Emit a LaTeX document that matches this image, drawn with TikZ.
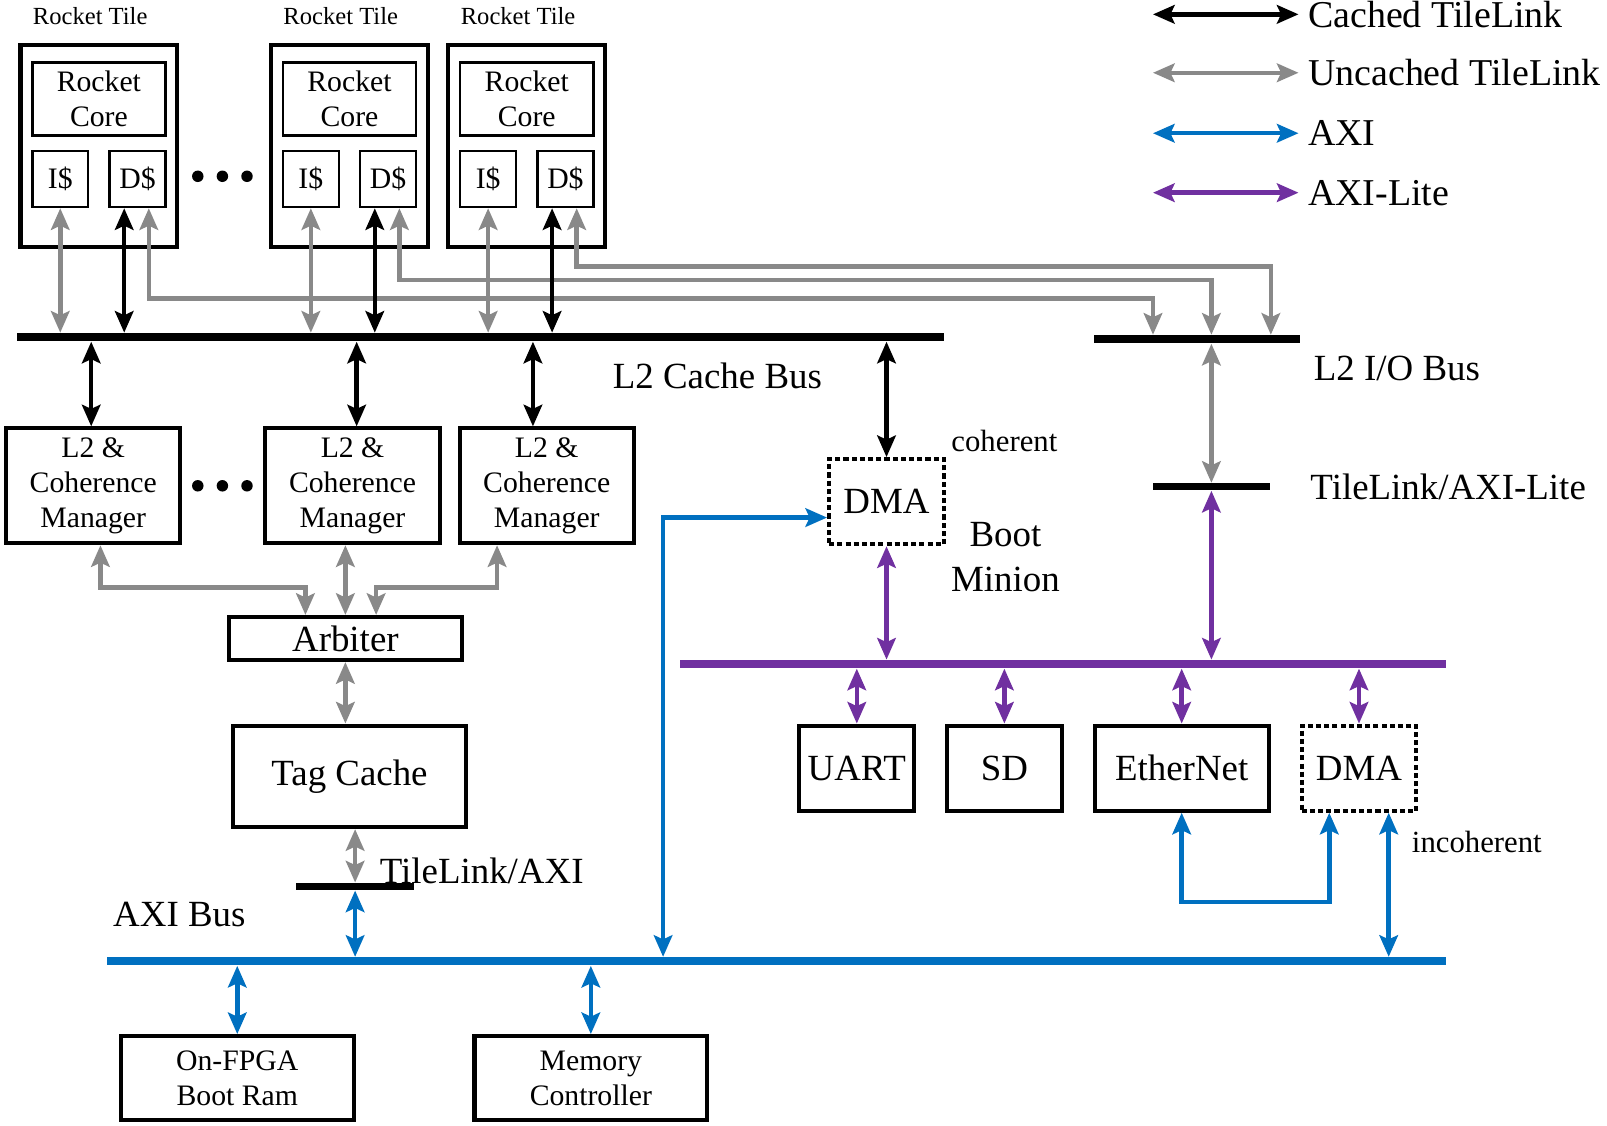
\documentclass[tikz,border=0pt]{standalone}
\usepackage{fontspec}
\setmainfont{Liberation Serif}
\usetikzlibrary{positioning,arrows.meta}
\definecolor{tlgray}{RGB}{137,137,137}
\definecolor{axiblue}{RGB}{0,112,192}
\definecolor{axipurple}{RGB}{112,48,160}

\begin{document}
\begin{tikzpicture}[x=0.5pt, y=-0.5pt,
    >={Stealth[length=10.5pt, width=9pt, inset=2pt]},
    cached/.style={<->, draw=black, line width=2.2pt},
    uncached/.style={<->, draw=tlgray, line width=2.2pt},
    axi/.style={<->, draw=axiblue, line width=2.2pt},
    axilite/.style={<->, draw=axipurple, line width=2.2pt},
    tilebox/.style={draw, line width=2pt, minimum width=76.5pt, minimum height=98.5pt, inner sep=0pt},
    corebox/.style={draw, line width=1.2pt, minimum width=65pt, minimum height=35.5pt, inner sep=0pt, align=center, font=\fontsize{14.5pt}{17pt}\selectfont},
    cachebox/.style={corebox, minimum width=27.3pt, minimum height=27.3pt},
    block/.style={draw, line width=2pt, inner sep=0pt, align=center},
    mgrbox/.style={block, minimum width=85pt, minimum height=56pt, font=\fontsize{14.5pt}{17pt}\selectfont},
    membox/.style={block, minimum width=113.5pt, minimum height=41pt, font=\fontsize{14.5pt}{17pt}\selectfont},
    periph/.style={block, minimum width=56pt, minimum height=41.5pt, font=\fontsize{18pt}{21pt}\selectfont},
    dmabox/.style={periph, dash pattern=on 2.5pt off 1.5pt},
    busbar/.style={inner sep=0pt, minimum height=4pt},
    bustext/.style={inner sep=0pt, align=center, font=\fontsize{18pt}{22pt}\selectfont},
    legtext/.style={inner sep=0pt, font=\fontsize{18.5pt}{22pt}\selectfont},
    smalltext/.style={inner sep=0pt, font=\fontsize{15pt}{17pt}\selectfont},
    tiletext/.style={inner sep=0pt, font=\fontsize{12pt}{14pt}\selectfont}
    ]
        \useasboundingbox (0,0) rectangle (1568,1097.7);

        %Buses
        \node[busbar, fill=black, minimum width=452pt] (cbus) at (469,329) {};
        \node[busbar, fill=black, minimum width=100.5pt] (iobus) at (1167.5,331) {};
        \node[busbar, fill=black, minimum width=57pt, minimum height=3.5pt] (tlbar) at (1182,475) {};
        \node[busbar, fill=axipurple, minimum width=374pt] (pbus) at (1037,648) {};
        \node[busbar, fill=black, minimum width=57.5pt, minimum height=3.5pt] (axibar) at (346.5,865) {};
        \node[busbar, fill=axiblue, minimum width=653.5pt] (axibus) at (757.5,938) {};

        %Rocket tiles
        \foreach \i/\x in {1/96.5, 2/341, 3/514} {
            \node[tilebox] (T\i) at (\x,142.5) {};
            \node[tiletext] at ([xshift=-4.25pt, yshift=13pt]T\i.north) {Rocket Tile};
            \node[corebox] (C\i) at (\x,96.5) {Rocket\\Core};
            \node[cachebox, anchor=north west] (I\i) at ([yshift=-6.5pt]C\i.south west) {I\$};
            \node[cachebox, anchor=north east] (D\i) at ([yshift=-6.5pt]C\i.south east) {D\$};
        }
        \foreach \y in {172, 474}
            \foreach \x in {193, 217, 241}
                \fill (\x,\y) circle (2.8pt);

        %L2 managers and memory side
        \node[mgrbox] (M1) at (91,474) {L2 \&\\Coherence\\Manager};
        \node[mgrbox] (M2) at (344,474) {L2 \&\\Coherence\\Manager};
        \node[mgrbox] (M3) at (533.5,474) {L2 \&\\Coherence\\Manager};
        \node[block, minimum width=114pt, minimum height=21pt, font=\fontsize{18pt}{21pt}\selectfont]
            (arb) at (337,623) {Arbiter};
        \node[block, minimum width=114pt, minimum height=49.5pt, font=\fontsize{18pt}{21pt}\selectfont]
            (tag) at (341,757.5) {Tag Cache};
        \node[membox] (bram) at (231.5,1052) {On-FPGA\\Boot Ram};
        \node[membox] (memc) at (576.5,1052) {Memory\\Controller};

        %Boot minion and peripherals
        \node[dmabox] (dma1) at (865,489.5) {DMA};
        \node[periph] (uart) at (836,749.5) {UART};
        \node[periph, right=14pt of uart] (sd) {SD};
        \node[periph, right=14pt of sd, minimum width=85pt] (eth) {EtherNet};
        \node[dmabox, right=14pt of eth] (dma2) {DMA};

        %Texts
        \node[bustext] at (700,367) {L2 Cache Bus};
        \node[bustext] at (1363,360) {L2 I/O Bus};
        \node[bustext] at (1413,475) {TileLink/AXI-Lite};
        \node[bustext] at (470,850) {TileLink/AXI};
        \node[bustext] at (175,892) {AXI Bus};
        \node[bustext] at (981,544) {Boot\\Minion};
        \node[smalltext] at (980,430) {coherent};
        \node[smalltext] at (1441,822) {incoherent};

        %Legend
        \foreach \y/\s/\t in {14/cached/Cached TileLink, 71/uncached/Uncached TileLink,
                              130/axi/AXI, 188/axilite/AXI-Lite} {
            \node[legtext, anchor=west] (leg\s) at (1276,\y) {\t};
            \draw[\s] ([xshift=-75.5pt]leg\s.west) -- ([xshift=-4.5pt]leg\s.west);
        }

        %Lines
        \foreach \i/\dy/\io in {1/88/-21.25pt, 2/70/7.25pt, 3/57/36.25pt} {
            \draw[uncached] (I\i.south) -- (I\i.south |- cbus.north);
            \draw[cached] ([xshift=-6.5pt]D\i.south) -- ([xshift=-6.5pt]D\i.south |- cbus.north);
            \draw[uncached] ([xshift=5.5pt]D\i.south) -- ++(0,\dy) -| ([xshift=\io]iobus.north);
        }
        \draw[cached] ([xshift=-1pt]M1.north |- cbus.south) -- ([xshift=-1pt]M1.north);
        \draw[cached] ([xshift=2pt]M2.north |- cbus.south) -- ([xshift=2pt]M2.north);
        \draw[cached] ([xshift=-6.75pt]M3.north |- cbus.south) -- ([xshift=-6.75pt]M3.north);
        \draw[cached] (dma1.north |- cbus.south) -- (dma1.north);

        \draw[uncached] ([xshift=3.5pt]M1.south) -- ++(0,41) -| ([xshift=-19.5pt]arb.north);
        \draw[uncached] (arb.north |- M2.south) -- (arb.north);
        \draw[uncached] ([xshift=-24.25pt]M3.south) -- ++(0,41) -| ([xshift=15pt]arb.north);
        \draw[uncached] (arb.south) -- (arb.south |- tag.north);
        \draw[uncached] (axibar.north |- tag.south) -- (axibar.north);
        \draw[uncached] (tlbar.north |- iobus.south) -- (tlbar.north);

        \draw[axilite] (tlbar.south) -- (tlbar.south |- pbus.north);
        \draw[axilite] (dma1.south) -- (dma1.south |- pbus.north);
        \foreach \p in {uart, sd, eth, dma2}
            \draw[axilite] (\p.north |- pbus.south) -- (\p.north);

        \draw[axi] (axibar.south) -- (axibar.south |- axibus.north);
        \draw[axi] (bram.north |- axibus.south) -- (bram.north);
        \draw[axi] (memc.north |- axibus.south) -- (memc.north);
        \draw[axi] ([yshift=-7.75pt]dma1.west) -| ([xshift=-55.25pt]axibus.north);
        \draw[axi] (eth.south) -- ++(0,87) -| ([xshift=-14.5pt]dma2.south);
        \draw[axi] ([xshift=14.5pt]dma2.south) -- ([xshift=14.5pt]dma2.south |- axibus.north);
\end{tikzpicture}
\end{document}
